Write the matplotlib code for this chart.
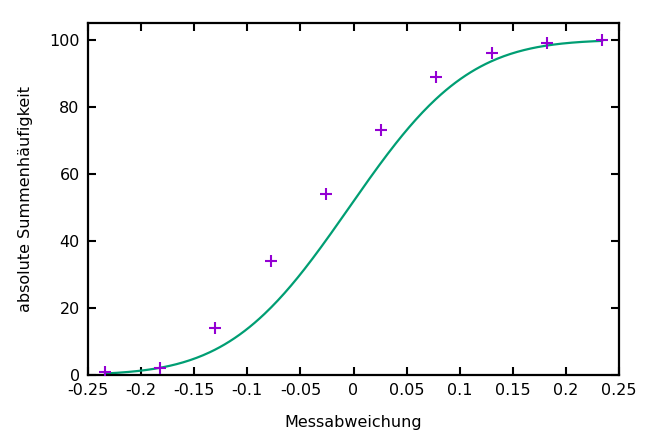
import math
import numpy as np
import matplotlib
matplotlib.use('Agg')
import matplotlib.pyplot as plt

# Messwerte (Klassenmitten und absolute Summenhäufigkeit)
messabweichung = [-0.234, -0.182, -0.130, -0.078, -0.026, 0.026, 0.078, 0.130, 0.182, 0.234]
summenhaeufigkeit = [1, 2, 14, 34, 54, 73, 89, 96, 99, 100]

# Angepasste Normalverteilung (Verteilungsfunktion)
mu = -0.004
sigma = 0.088
n_gesamt = 100

x_ticks = [-0.25, -0.2, -0.15, -0.1, -0.05, 0, 0.05, 0.1, 0.15, 0.2, 0.25]
x_ticklabels = ['-0.25', '-0.2', '-0.15', '-0.1', '-0.05', '0', '0.05', '0.1', '0.15', '0.2', '0.25']
y_ticks = [0, 20, 40, 60, 80, 100]

plt.rcParams['font.family'] = ['DejaVu Sans']
plt.rcParams['font.size'] = 11.5

fig = plt.figure(figsize=(6.5, 4.34), dpi=100)
ax = fig.add_axes([0.1354, 0.136, 0.8169, 0.811])

x_fit = np.linspace(min(messabweichung), max(messabweichung), 300)
erf = np.vectorize(math.erf)
y_fit = n_gesamt * 0.5 * (1 + erf((x_fit - mu) / (sigma * math.sqrt(2))))

ax.plot(x_fit, y_fit, color='#009E73', linewidth=1.6, zorder=2)
ax.plot(messabweichung, summenhaeufigkeit, linestyle='none', marker='+',
        markersize=9, markeredgewidth=1.5, color='#9400D3', zorder=3)

ax.set_xlim(-0.25, 0.25)
ax.set_ylim(0, 105)
ax.set_xticks(x_ticks)
ax.set_xticklabels(x_ticklabels)
ax.set_yticks(y_ticks)

ax.tick_params(direction='in', length=6, width=1.5, top=True, right=True, pad=6)
for sp in ax.spines.values():
    sp.set_linewidth(1.6)

ax.set_xlabel('Messabweichung', labelpad=12)
ax.set_ylabel('absolute Summenhäufigkeit', labelpad=12)

fig.savefig('out.png', dpi=100)
